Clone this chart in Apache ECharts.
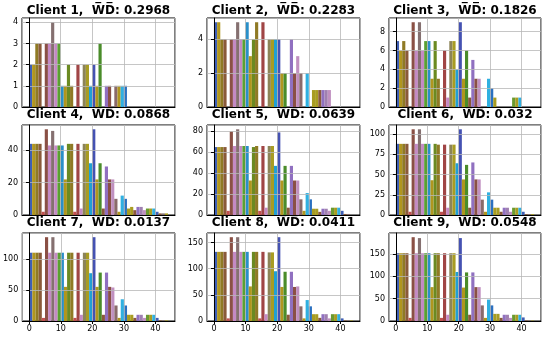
<!DOCTYPE html>
<html><head><meta charset="utf-8">
<script src="https://cdn.jsdelivr.net/npm/echarts@6/dist/echarts.min.js"></script>
<style>html,body{margin:0;padding:0;background:#fff}#c{width:550px;height:338px}</style>
</head><body><div id="c"></div>
<script>
// ---- data ----
const bins = [0,1,2,3,4,5,6,7,8,9,10,11,12,13,14,15,16,17,18,19,20,21,22,23,24,25,26,27,28,29,30,31,32,33,34,35,36,37,38,39,40,41,42,43];
const client1 = [2,2,3,3,0,3,3,4,3,3,1,1,2,1,0,2,0,2,2,1,2,1,3,0,1,1,0,1,1,1,1,0,0,0,0,0,0,0,0,0,0,0,0,0];
const client2 = [5,5,4,4,0,4,4,5,4,4,5,3,4,5,0,5,0,4,4,4,4,2,2,0,4,2,3,2,0,2,0,1,1,1,1,1,1,0,0,0,0,0,0,0];
const client3 = [7,6,7,6,0,9,6,9,6,7,7,3,7,3,0,6,1,7,7,4,9,3,6,1,5,3,3,0,0,3,2,1,0,0,0,0,0,1,1,1,0,0,0,0];
const client4 = [44,44,44,44,2,53,43,52,43,43,43,22,44,44,2,44,4,44,44,32,53,22,32,4,30,22,22,10,2,12,10,4,5,3,5,5,3,4,4,4,2,1,1,1];
const client5 = [65,65,65,65,4,80,66,82,66,66,66,33,65,66,4,66,7,66,66,47,79,33,47,7,47,33,33,15,4,21,15,6,6,3,6,6,4,7,7,7,4,1,1,0];
const client6 = [88,88,88,88,4,106,88,106,88,88,88,43,88,87,4,87,9,87,87,64,106,44,62,9,65,44,44,19,4,28,19,9,9,4,9,9,4,9,9,9,4,1,1,1];
const client7 = [110,110,110,110,5,135,110,135,110,110,110,55,110,110,5,110,10,110,110,77,135,55,78,10,78,55,54,25,5,35,25,10,10,5,10,10,5,10,10,10,5,1,1,1];
const client8 = [132,132,132,132,5,160,132,160,132,132,132,66,132,132,5,132,13,131,131,95,160,65,94,12,94,65,66,28,5,40,28,13,13,6,13,13,5,13,13,13,5,1,1,1];
const client9 = [152,152,152,152,7,188,152,186,152,152,152,76,152,152,7,152,14,152,152,110,186,75,109,14,109,76,76,35,7,48,35,16,16,7,14,14,7,14,14,14,8,1,1,1];
const clientNames = ['Client 1','Client 2','Client 3','Client 4','Client 5','Client 6','Client 7','Client 8','Client 9'];
const wdValues = ['0.2968','0.2283','0.1826','0.0868','0.0639','0.032','0.0137','0.0411','0.0548'];
const yTickSteps = [1,2,2,20,20,25,50,50,50];

// ---- styles ----
const barColors = ['#3f5fb5','#b0961e','#8f7a25','#8a5a3a','#c05050','#8a5045','#c48ac4','#857070','#c48ac4','#5aa032',
  '#2a8fc8','#b0961e','#6b8a22','#8f7a25','#c05050','#a04545','#c48ac4','#8c8458','#a89c22','#20a0d4',
  '#4552b2','#b0961e','#4a8c2a','#8a5a3a','#9070c0','#8a5045','#c090c0','#8a6a6a','#b0961e','#30b0e0',
  '#2a70c0','#a89c22','#a89c22','#8a5a3a','#9070c0','#a080b0','#c090c0','#6a9a30','#a89c22','#30b0e0',
  '#3f5fb5','#8a5a3a','#857070','#a89c22'];
const colLeft = [22, 207, 389], colWidth = [153, 153, 152];
const rowTop = [18, 125, 233], rowHeight = [89, 90, 88];
const titleY = [10.5, 115, 223];

const allData = [client1,client2,client3,client4,client5,client6,client7,client8,client9];
const xSpan = bins[bins.length-1] + 1 - bins[0];
const xMin = bins[0] - 0.05*xSpan, xMax = bins[bins.length-1] + 1 + 0.05*xSpan;

const grids = [], xAxes = [], yAxes = [], series = [], graphics = [];
allData.forEach((vals, i) => {
  const r = Math.floor(i/3), c = i % 3;
  grids.push({left: colLeft[c], top: rowTop[r], width: colWidth[c], height: rowHeight[r],
    show: true, borderColor: '#000', borderWidth: 1, containLabel: false});
  xAxes.push({type: 'value', gridIndex: i, min: xMin, max: xMax, splitNumber: 5, z: 5,
    axisLine: {show: true, onZero: false, lineStyle: {color: '#000', width: 1}},
    axisTick: {show: r === 2, length: 3, lineStyle: {color: '#000'}},
    axisLabel: {show: r === 2, fontSize: 8, color: '#000', margin: 4, fontFamily: 'DejaVu Sans',
      showMinLabel: false, showMaxLabel: false},
    splitLine: {show: true, lineStyle: {color: '#b8b8b8', width: 0.8}}});
  const yMax = Math.max(...vals) * 1.05;
  yAxes.push({type: 'value', gridIndex: i, min: 0, max: yMax, interval: yTickSteps[i], z: 5,
    axisLine: {show: true, lineStyle: {color: '#000', width: 1}},
    axisTick: {show: true, length: 3, lineStyle: {color: '#000'}},
    axisLabel: {fontSize: 8, color: '#000', margin: 4, fontFamily: 'DejaVu Sans', showMaxLabel: false},
    splitLine: {show: true, lineStyle: {color: '#b8b8b8', width: 0.8}}});
  series.push({type: 'custom', xAxisIndex: i, yAxisIndex: i, clip: true,
    data: bins.map((b, k) => [b, vals[k]]),
    encode: {x: 0, y: 1},
    renderItem: function (params, api) {
      const x = api.value(0), h = api.value(1);
      if (!h) return null;
      const p0 = api.coord([x, h]), p1 = api.coord([x + 1, 0]);
      return {type: 'rect', shape: {x: p0[0], y: p0[1], width: p1[0] - p0[0], height: p1[1] - p0[1]},
        style: {fill: barColors[x % barColors.length]}};
    }});
  graphics.push({type: 'text', x: colLeft[c] + colWidth[c]/2, y: titleY[r],
    style: {text: clientNames[i] + ',  W\u0305D\u0305: ' + wdValues[i], fontSize: 12, fontWeight: 'bold',
      fontFamily: 'DejaVu Sans', fill: '#000', textAlign: 'center', textVerticalAlign: 'middle'}});
});

const chart = echarts.init(document.getElementById('c'), null, {renderer: 'canvas'});
chart.setOption({animation: false, backgroundColor: '#fff', grid: grids, xAxis: xAxes, yAxis: yAxes,
  series: series, graphic: graphics});
</script></body></html>
